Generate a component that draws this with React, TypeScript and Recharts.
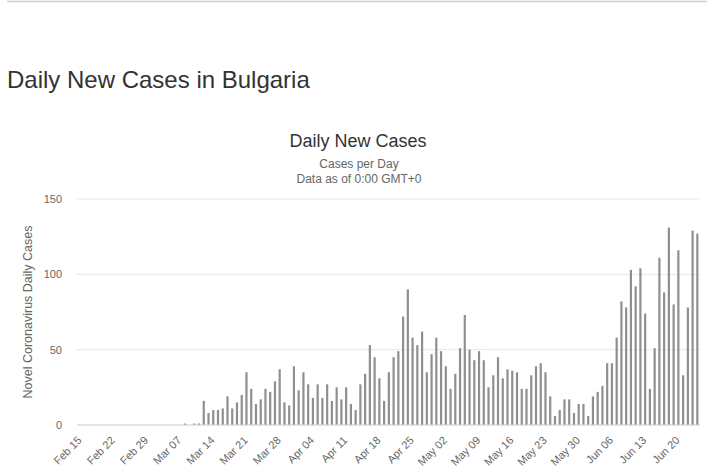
import React from 'react';
import { BarChart, Bar, XAxis, YAxis, CartesianGrid } from 'recharts';

// month, first day, last day shown
const monthSpans: [string, number, number][] = [
  ['Feb', 15, 29],
  ['Mar', 1, 31],
  ['Apr', 1, 30],
  ['May', 1, 31],
  ['Jun', 1, 23],
];

const categories: string[] = monthSpans.flatMap(([m, from, to]) =>
  Array.from({ length: to - from + 1 }, (_, i) => `${m} ${String(from + i).padStart(2, '0')}`)
);

// new cases per day, Feb 15 .. Jun 23
const dailyCases = [
  0, 0, 0, 0, 0, 0, 0, 0, 0, 0, 0, 0, 0, 0, 0, 0, 0, 0, 0, 0, 0,
  1, 0, 1, 1, 16, 8, 10, 10, 11, 19, 11, 15, 20, 35, 24, 14, 17, 24, 22,
  29, 37, 15, 13, 39, 23, 35, 27, 18, 27, 18, 27, 16, 25, 17, 25, 14, 10,
  27, 34, 53, 45, 31, 16, 35, 45, 49, 72, 90, 58, 53, 62, 35, 47, 58, 49,
  39, 24, 34, 51, 73, 50, 43, 49, 43, 25, 33, 45, 31, 37, 36, 35, 24, 24,
  33, 39, 41, 35, 19, 6, 10, 17, 17, 8, 14, 14, 6, 19, 22, 26, 41, 41, 58,
  82, 78, 103, 92, 104, 74, 24, 51, 111, 88, 131, 80, 116, 33, 78, 129, 127,
];

const yTicks = [0, 50, 100, 150];

const data = categories.map((date, i) => ({ date, cases: dailyCases[i] }));

const FONT = '"Lucida Grande", "Lucida Sans Unicode", Arial, "Liberation Sans", Helvetica, sans-serif';

const DateTick = ({ x, y, payload }: any) => {
  const ax = x - 3;
  const ay = y + 16;
  return (
    <text
      x={ax}
      y={ay}
      textAnchor="end"
      fontSize={11}
      fill="#666666"
      fontFamily={FONT}
      transform={`rotate(-45, ${ax}, ${ay})`}
    >
      {payload.value}
    </text>
  );
};

export default function App() {
  return (
    <div style={{ position: 'absolute', left: 0, top: 0, width: 707, height: 471, background: '#fff' }}>
      <BarChart
        width={707}
        height={471}
        data={data}
        margin={{ top: 199, right: 7, bottom: 0, left: 0 }}
        style={{ fontFamily: FONT }}
      >
        <CartesianGrid horizontal vertical={false} stroke="#e6e6e6" />
        <XAxis
          dataKey="date"
          height={46}
          interval={6}
          padding={{ left: 6, right: 0 }}
          tickLine={false}
          tickSize={0}
          tickMargin={0}
          axisLine={{ stroke: '#ccd6eb' }}
          tick={<DateTick />}
        />
        <YAxis
          width={77}
          domain={[0, 150]}
          ticks={yTicks}
          axisLine={false}
          tickLine={false}
          tickSize={0}
          tickMargin={15}
          tick={{ fontSize: 11, fill: '#666666' }}
        />
        <Bar dataKey="cases" fill="#8f8f8f" barSize={2.2} isAnimationActive={false} />
      </BarChart>

      <svg
        width={707}
        height={471}
        style={{ position: 'absolute', left: 0, top: 0, pointerEvents: 'none' }}
      >
        <line x1={7} y1={1.5} x2={707} y2={1.5} stroke="#cccccc" strokeWidth={1.5} />
        <text x={7} y={88} fontSize={24} fill="#333333" fontFamily='"Helvetica Neue", Helvetica, Arial, "Liberation Sans", sans-serif'>
          Daily New Cases in Bulgaria
        </text>
        <text x={358} y={147} textAnchor="middle" fontSize={18} fill="#333333" fontFamily={FONT}>
          Daily New Cases
        </text>
        <text x={359} y={168} textAnchor="middle" fontSize={12} fill="#666666" fontFamily={FONT}>
          Cases per Day
        </text>
        <text x={359} y={183} textAnchor="middle" fontSize={12} fill="#666666" fontFamily={FONT}>
          Data as of 0:00 GMT+0
        </text>
        <text
          x={32}
          y={312}
          textAnchor="middle"
          fontSize={12.5}
          fill="#666666"
          fontFamily={FONT}
          transform="rotate(-90, 32, 312)"
        >
          Novel Coronavirus Daily Cases
        </text>
      </svg>
    </div>
  );
}
